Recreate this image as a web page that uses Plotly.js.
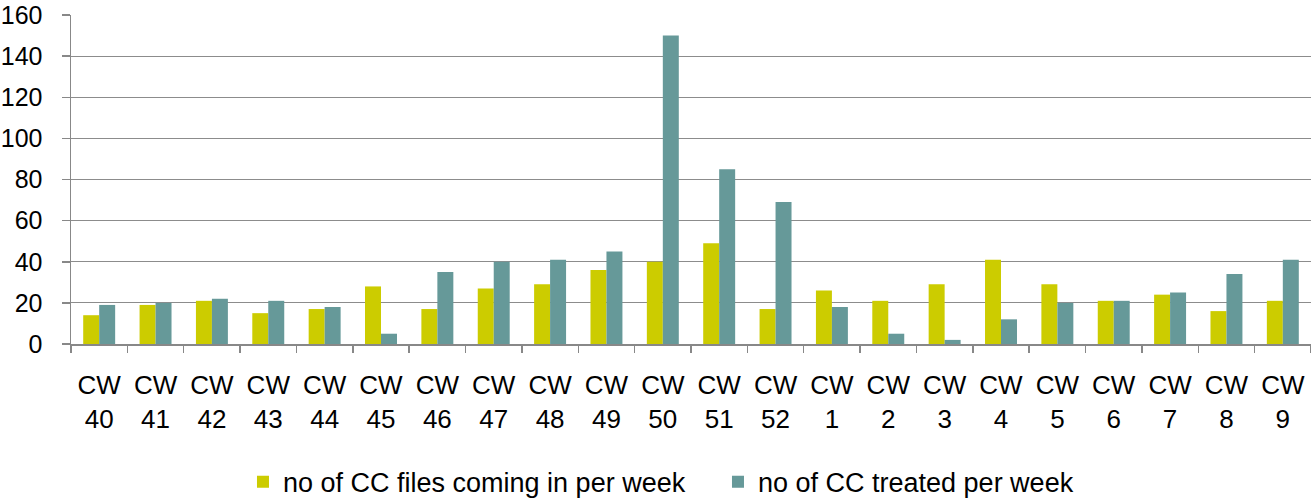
<!DOCTYPE html>
<html>
<head>
<meta charset="utf-8">
<script src="https://cdn.plot.ly/plotly-3.0.1.min.js"></script>
<style>html,body{margin:0;padding:0;background:#fff;}#chart{width:1311px;height:498px;}</style>
</head>
<body>
<div id="chart"></div>
<script>
const weeks = ["CW<br>40","CW<br>41","CW<br>42","CW<br>43","CW<br>44","CW<br>45","CW<br>46","CW<br>47","CW<br>48","CW<br>49","CW<br>50","CW<br>51","CW<br>52","CW<br>1","CW<br>2","CW<br>3","CW<br>4","CW<br>5","CW<br>6","CW<br>7","CW<br>8","CW<br>9"];
const incoming = [14,19,21,15,17,28,17,27,29,36,40,49,17,26,21,29,41,29,21,24,16,21];
const treated  = [19,20,22,21,18,5,35,40,41,45,150,85,69,18,5,2,12,20,21,25,34,41];
const seriesNames = ["no of CC files coming in per week","no of CC treated per week"];
const yTicks = [0,20,40,60,80,100,120,140,160];

const font = "Liberation Sans, Arial, sans-serif";
const traces = [
  {type:"bar", x:weeks, y:incoming, name:seriesNames[0], marker:{color:"#CCCC00"}},
  {type:"bar", x:weeks, y:treated, name:seriesNames[1], marker:{color:"#669999"}}
];
const layout = {
  width:1311, height:498,
  margin:{l:71, r:0, t:15, b:154, autoexpand:false},
  paper_bgcolor:"#fff", plot_bgcolor:"#fff",
  barmode:"group", bargap:0.433, bargroupgap:0,
  font:{family:font, size:25, color:"#000"},
  showlegend:true,
  legend:{orientation:"h", x:0.1387, xanchor:"left", y:-0.42, yanchor:"middle",
          entrywidth:430, entrywidthmode:"pixels",
          font:{family:font, size:27, color:"#000"}, traceorder:"normal"},
  xaxis:{type:"category", tickson:"boundaries", ticks:"outside", ticklen:7, tickwidth:1.5,
         tickcolor:"#888", showline:true, linecolor:"#888", linewidth:1.5,
         showgrid:false, tickfont:{family:font, size:26, color:"#000"},
         ticklabelstandoff:17, fixedrange:true},
  yaxis:{range:[0,160], tickvals:yTicks, ticks:"outside", ticklen:8, tickwidth:1.5,
         tickcolor:"#888", showline:true, linecolor:"#888", linewidth:1.5,
         showgrid:true, gridcolor:"#8c8c8c", gridwidth:1.2, zeroline:false,
         tickfont:{family:font, size:25, color:"#000"}, ticklabelstandoff:14, fixedrange:true}
};
Plotly.newPlot("chart", traces, layout, {displayModeBar:false, staticPlot:true});
</script>
</body>
</html>
